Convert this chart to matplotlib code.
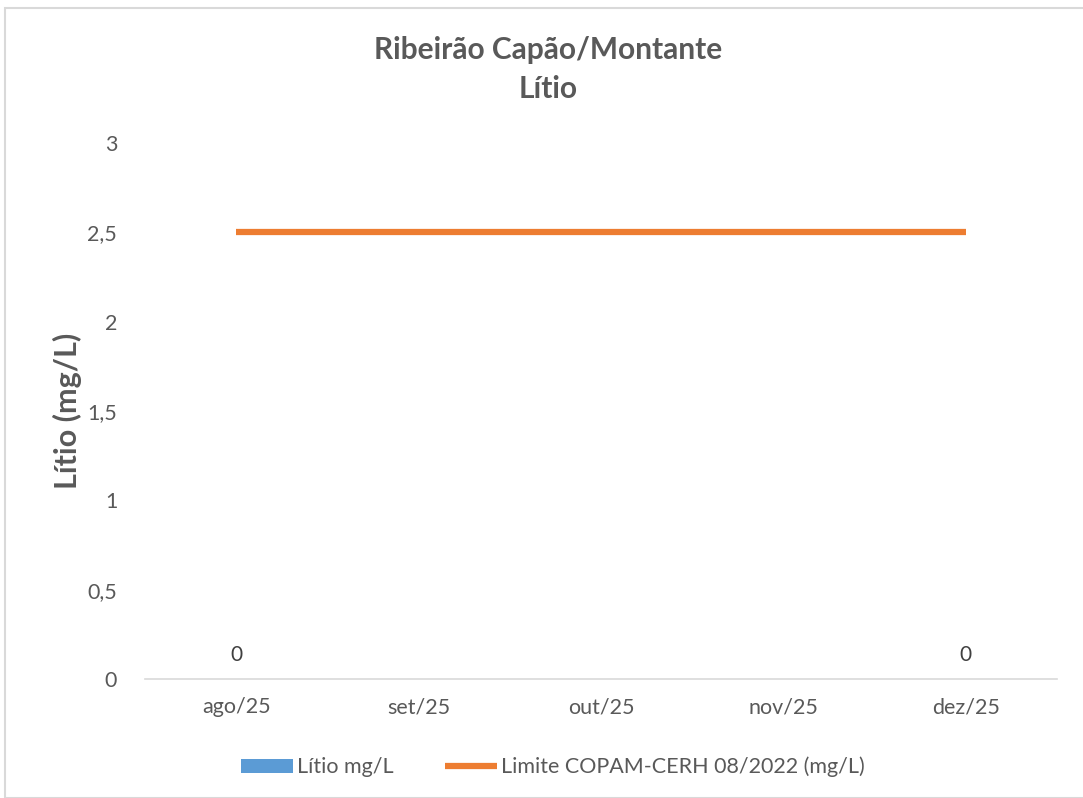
import numpy as np
import matplotlib.pyplot as plt
from matplotlib.patches import Rectangle

meses = ['ago/25', 'set/25', 'out/25', 'nov/25', 'dez/25']
litio = [0, np.nan, np.nan, np.nan, 0]
limite = [2.5, 2.5, 2.5, 2.5, 2.5]
y_ticks = [0, 0.5, 1, 1.5, 2, 2.5, 3]
y_tick_labels = ['0', '0,5', '1', '1,5', '2', '2,5', '3']

plt.rcParams['font.family'] = ['Lato', 'DejaVu Sans']
cinza = '#595959'

fig = plt.figure(figsize=(10.83, 7.98), dpi=100)
ax = fig.add_axes([145 / 1083, 1 - 679 / 798, (1057 - 145) / 1083, (679 - 143) / 798])

x = np.arange(len(meses))
barras = ax.bar(x, np.nan_to_num(litio), width=0.5, color='#5B9BD5', label='Lítio mg/L')
linha, = ax.plot(x, limite, color='#ED7D31', linewidth=4.5, solid_capstyle='butt',
                 label='Limite COPAM-CERH 08/2022 (mg/L)')

# rótulos de dados só onde há medição
for xi, v in zip(x, litio):
    if not np.isnan(v):
        ax.text(xi, v + 0.08, f'{v:g}', ha='center', va='bottom', fontsize=15, color='#404040')

ax.set_xlim(-0.5, len(meses) - 0.5)
ax.set_ylim(0, 3)
ax.set_xticks(x)
ax.set_xticklabels(meses)
ax.set_yticks(y_ticks)
ax.set_yticklabels(y_tick_labels)
ax.tick_params(axis='both', length=0, labelsize=15.5, labelcolor=cinza)
ax.tick_params(axis='x', pad=13)
ax.tick_params(axis='y', pad=20)
for s in ['top', 'right', 'left']:
    ax.spines[s].set_visible(False)
ax.spines['bottom'].set_color('#D9D9D9')
ax.spines['bottom'].set_linewidth(1.2)

ax.set_ylabel('Lítio (mg/L)', fontsize=22, fontweight='bold', color=cinza, labelpad=4)

fig.text(548 / 1083, 1 - 50 / 798, 'Ribeirão Capão/Montante', ha='center', va='center',
         fontsize=21.5, fontweight='bold', color=cinza)
fig.text(548 / 1083, 1 - 89 / 798, 'Lítio', ha='center', va='center',
         fontsize=21.5, fontweight='bold', color=cinza)

fig.legend([barras, linha], ['Lítio mg/L', 'Limite COPAM-CERH 08/2022 (mg/L)'],
           loc='center', bbox_to_anchor=(553 / 1083, 1 - 767 / 798), ncol=2, frameon=False,
           fontsize=15.5, labelcolor=cinza, handlelength=2.4, handleheight=0.6,
           handletextpad=0.2, columnspacing=2.4)

fig.patches.append(Rectangle((5 / 1083, 0), 1.1, 1 - 8 / 798, transform=fig.transFigure,
                             fill=False, edgecolor='#D9D9D9', linewidth=1.5))

fig.savefig('out.png', dpi=100)
